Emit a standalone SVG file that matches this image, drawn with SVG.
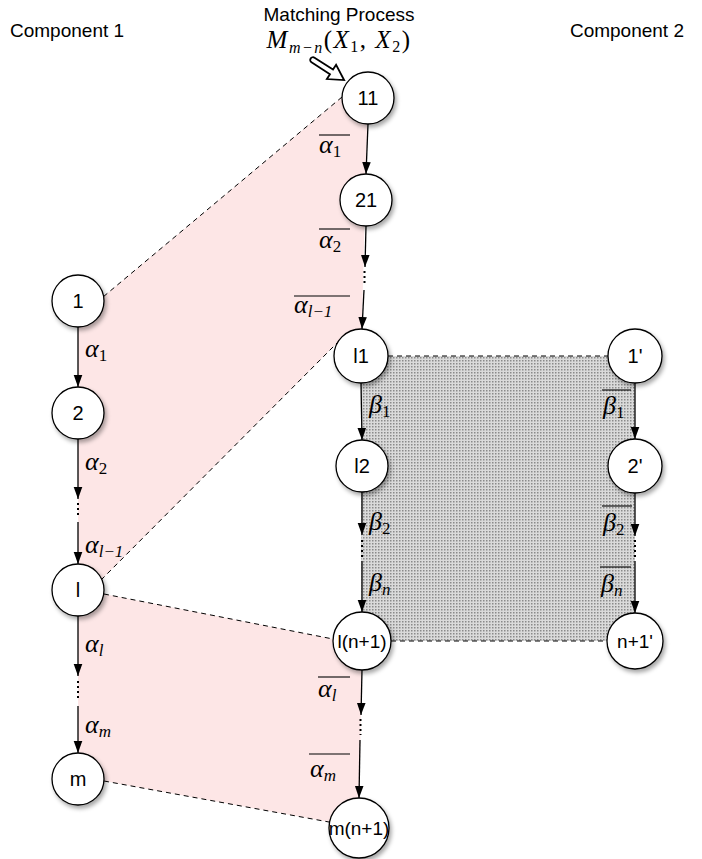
<svg xmlns="http://www.w3.org/2000/svg" width="702" height="859" viewBox="0 0 702 859">
<style>
.title{font-family:"Liberation Sans",Arial,sans-serif;font-size:19px;fill:#000}
.nl{font-family:"Liberation Sans",Arial,sans-serif;font-size:20px;fill:#000;text-anchor:middle}
.nls{font-family:"Liberation Sans",Arial,sans-serif;font-size:19px;fill:#000;text-anchor:middle}
.node circle{fill:#fff;stroke:#000;stroke-width:1.3;filter:url(#sh)}
.math{font-family:"Liberation Serif","Times New Roman",serif;font-size:26px;font-style:italic;fill:#000}
.sub{font-size:17px;font-style:normal}
.subi{font-size:17px;font-style:italic}
.arr{stroke:#000;stroke-width:1.3;fill:none;marker-end:url(#ah)}
.dots{stroke:#000;stroke-width:2;stroke-dasharray:2,3;fill:none}
.dash{stroke:#000;stroke-width:1;stroke-dasharray:5,4;fill:none}
.ovl{stroke:#000;stroke-width:1.1}
.pink{fill:#fde6e6}
</style>
<defs>
<marker id="ah" markerUnits="userSpaceOnUse" markerWidth="12" markerHeight="14" refX="14" refY="5" orient="auto" viewBox="0 0 14 10">
<path d="M0,0 L14,5 L0,10 z" fill="#000"/>
</marker>
<filter id="sh" x="-30%" y="-30%" width="170%" height="170%">
<feDropShadow dx="2" dy="3" stdDeviation="2" flood-color="#000" flood-opacity="0.35"/>
</filter>
<pattern id="dotpat" width="3" height="3" patternUnits="userSpaceOnUse">
<rect width="3" height="3" fill="#dadada"/>
<rect width="1.5" height="1.5" fill="#8a8a8a"/>
</pattern>
</defs>
<rect width="702" height="859" fill="#fff"/>

<g id="regions">
<polygon class="pink" points="368,98 342,97 103,297 78,301 78,590 101,580 337,343 361,356"/>
<polygon class="pink" points="78,590 104,594 333,639 362,641 359,828 329,822 104,781 78,779"/>
<rect x="361" y="356" width="274" height="285" fill="url(#dotpat)"/>
</g>

<g id="titles">
<text class="title" x="10" y="37">Component 1</text>
<text class="title" x="684" y="37" text-anchor="end">Component 2</text>
<text class="title" x="339" y="21" text-anchor="middle">Matching Process</text>
<text class="math" x="339" y="48" text-anchor="middle" style="font-size:25px;letter-spacing:1.5px">M<tspan class="subi" dy="5" style="font-size:16px">m−n</tspan><tspan dy="-5" font-style="normal">(</tspan>X<tspan class="sub" dy="4" style="font-size:16px">1</tspan><tspan dy="-4" font-style="normal">, </tspan>X<tspan class="sub" dy="4" style="font-size:16px">2</tspan><tspan dy="-4" font-style="normal">)</tspan></text>
<g transform="translate(313,60) rotate(32.8)">
<path d="M0,-2.8 L22,-2.8 L22,-8.5 L37,0 L22,8.5 L22,2.8 L0,2.8 A2.8,2.8 0 0 1 0,-2.8 z" fill="#fff" stroke="#000" stroke-width="1.8" stroke-linejoin="miter"/>
</g>
</g>

<g id="connectors">
<line class="dash" x1="342" y1="97" x2="103" y2="297"/>
<line class="dash" x1="101" y1="580" x2="337" y2="343"/>
<line class="dash" x1="388" y1="356" x2="608" y2="356"/>
<line class="dash" x1="391" y1="641" x2="607" y2="641"/>
<line class="dash" x1="104" y1="594" x2="333" y2="639"/>
<line class="dash" x1="104" y1="781" x2="329" y2="822"/>

<line class="arr" x1="78" y1="327" x2="78" y2="387"/>
<line class="arr" x1="78" y1="439" x2="78" y2="499"/>
<line class="dots" x1="78" y1="503" x2="78" y2="518"/>
<line class="arr" x1="78" y1="522" x2="78" y2="564"/>
<line class="arr" x1="78" y1="616" x2="78" y2="676"/>
<line class="dots" x1="78" y1="681" x2="78" y2="699"/>
<line class="arr" x1="78" y1="706" x2="78" y2="753"/>

<line class="arr" x1="368" y1="124" x2="366" y2="174"/>
<line class="arr" x1="366" y1="226" x2="365" y2="267"/>
<line class="dots" x1="364.5" y1="271" x2="364.5" y2="286"/>
<line class="arr" x1="364" y1="290" x2="362" y2="329"/>
<line class="arr" x1="361" y1="383" x2="362" y2="440"/>
<line class="arr" x1="362" y1="492" x2="362" y2="535"/>
<line class="dots" x1="362" y1="540" x2="362" y2="557"/>
<line class="arr" x1="362" y1="561" x2="362" y2="612"/>
<line class="arr" x1="362" y1="670" x2="361" y2="715"/>
<line class="dots" x1="360.5" y1="719" x2="360.5" y2="735"/>
<line class="arr" x1="360" y1="740" x2="359" y2="798"/>

<line class="arr" x1="635" y1="383" x2="635" y2="439"/>
<line class="arr" x1="635" y1="493" x2="635" y2="536"/>
<line class="dots" x1="635" y1="540" x2="635" y2="557"/>
<line class="arr" x1="635" y1="561" x2="635" y2="613"/>
</g>

<g id="labels">
<text class="math" x="85" y="357">α<tspan class="sub" dy="4">1</tspan></text>
<text class="math" x="85" y="470">α<tspan class="sub" dy="4">2</tspan></text>
<text class="math" x="85" y="553">α<tspan class="subi" dy="4">l−1</tspan></text>
<text class="math" x="85" y="652">α<tspan class="subi" dy="4">l</tspan></text>
<text class="math" x="85" y="733">α<tspan class="subi" dy="4">m</tspan></text>

<text class="math" x="319" y="153">α<tspan class="sub" dy="4">1</tspan></text>
<line class="ovl" x1="319" y1="135" x2="350" y2="135"/>
<text class="math" x="319" y="248">α<tspan class="sub" dy="4">2</tspan></text>
<line class="ovl" x1="319" y1="229" x2="350" y2="229"/>
<text class="math" x="294" y="313">α<tspan class="subi" dy="4">l−1</tspan></text>
<line class="ovl" x1="294" y1="296" x2="350" y2="296"/>
<text class="math" x="318" y="697">α<tspan class="subi" dy="4">l</tspan></text>
<line class="ovl" x1="318" y1="677" x2="350" y2="677"/>
<text class="math" x="310" y="777">α<tspan class="subi" dy="4">m</tspan></text>
<line class="ovl" x1="309" y1="754" x2="350" y2="754"/>

<text class="math" x="369" y="413">β<tspan class="sub" dy="4">1</tspan></text>
<text class="math" x="369" y="530">β<tspan class="sub" dy="4">2</tspan></text>
<text class="math" x="369" y="591">β<tspan class="subi" dy="4">n</tspan></text>

<text class="math" x="603" y="414">β<tspan class="sub" dy="4">1</tspan></text>
<line class="ovl" x1="602" y1="390" x2="631" y2="390"/>
<text class="math" x="603" y="531">β<tspan class="sub" dy="4">2</tspan></text>
<line class="ovl" x1="602" y1="506" x2="632" y2="506"/>
<text class="math" x="601" y="592">β<tspan class="subi" dy="4">n</tspan></text>
<line class="ovl" x1="600" y1="567" x2="631" y2="567"/>
</g>

<g id="n11" class="node"><circle cx="368" cy="98" r="26"/><text class="nl" x="368" y="105">11</text></g>
<g id="n21" class="node"><circle cx="366" cy="200" r="26"/><text class="nl" x="366" y="207">21</text></g>
<g id="n1" class="node"><circle cx="78" cy="301" r="26"/><text class="nl" x="78" y="308">1</text></g>
<g id="n2" class="node"><circle cx="78" cy="413" r="26"/><text class="nl" x="78" y="420">2</text></g>
<g id="nl" class="node"><circle cx="78" cy="590" r="26"/><text class="nl" x="78" y="597">l</text></g>
<g id="nm" class="node"><circle cx="78" cy="779" r="26"/><text class="nl" x="78" y="786">m</text></g>
<g id="nl1" class="node"><circle cx="361" cy="356" r="27"/><text class="nl" x="361" y="363">l1</text></g>
<g id="nl2" class="node"><circle cx="362" cy="466" r="26"/><text class="nl" x="362" y="473">l2</text></g>
<g id="nln1" class="node"><circle cx="362" cy="641" r="29"/><text class="nls" x="362" y="648">l(n+1)</text></g>
<g id="nmn1" class="node"><circle cx="359" cy="828" r="30"/><text class="nls" x="359" y="835">m(n+1)</text></g>
<g id="n1p" class="node"><circle cx="635" cy="356" r="27"/><text class="nl" x="635" y="363">1'</text></g>
<g id="n2p" class="node"><circle cx="635" cy="466" r="27"/><text class="nl" x="635" y="473">2'</text></g>
<g id="nn1p" class="node"><circle cx="635" cy="641" r="28"/><text class="nls" x="635" y="648">n+1'</text></g>
</svg>
